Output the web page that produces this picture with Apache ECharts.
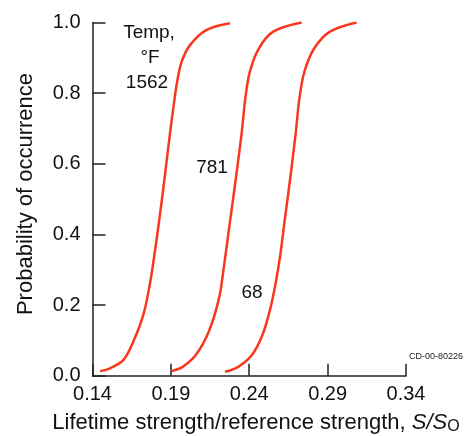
<!DOCTYPE html>
<html>
<head>
<meta charset="utf-8">
<script src="https://cdn.jsdelivr.net/npm/echarts@6/dist/echarts.min.js"></script>
<style>
  html, body { margin: 0; padding: 0; background: #fff; }
  #chart { width: 464px; height: 436px; }
</style>
</head>
<body>
<div id="chart"></div>
<script>
// data
var xTicks = [0.14, 0.19, 0.24, 0.29, 0.34];
var yTicks = [0.0, 0.2, 0.4, 0.6, 0.8, 1.0];

var x1562 = [0.1448, 0.1512, 0.1596, 0.1660, 0.1724, 0.1765, 0.1795, 0.1830, 0.1862, 0.1893, 0.1918, 0.1940, 0.1969, 0.2022, 0.2128, 0.2277];
var y1562 = [0.013, 0.021, 0.044, 0.096, 0.172, 0.257, 0.342, 0.455, 0.568, 0.681, 0.766, 0.832, 0.889, 0.936, 0.979, 0.998];

var x781 = [0.1905, 0.1975, 0.2060, 0.2142, 0.2207, 0.2237, 0.2280, 0.2309, 0.2350, 0.2375, 0.2404, 0.2462, 0.2553, 0.2734];
var y781 = [0.013, 0.025, 0.059, 0.125, 0.219, 0.304, 0.446, 0.540, 0.681, 0.785, 0.861, 0.927, 0.974, 1.0];

var x68 = [0.2245, 0.2330, 0.2418, 0.2484, 0.2535, 0.2570, 0.2598, 0.2628, 0.2656, 0.2695, 0.2720, 0.2752, 0.2815, 0.2915, 0.3085];
var y68 = [0.011, 0.025, 0.059, 0.115, 0.191, 0.266, 0.342, 0.446, 0.540, 0.681, 0.785, 0.861, 0.927, 0.974, 1.0];

function pairs(xs, ys) {
  return xs.map(function (x, i) { return [x, ys[i]]; });
}

var red = '#f7381f';
var font = '"Liberation Sans", Arial, sans-serif';

var myChart = echarts.init(document.getElementById('chart'));

var lineStyle = { color: red, width: 2.5 };

var option = {
  backgroundColor: '#fff',
  animation: false,
  grid: { left: 92.5, right: 58, top: 22.5, bottom: 60.3 },
  xAxis: {
    type: 'value',
    min: xTicks[0],
    max: xTicks[xTicks.length - 1],
    interval: 0.05,
    axisLine: { show: true, lineStyle: { color: '#222', width: 1.5 } },
    axisTick: { show: true, inside: true, length: 12, lineStyle: { color: '#222', width: 1.5 } },
    splitLine: { show: false },
    axisLabel: {
      margin: 9, fontSize: 20, color: '#111', fontFamily: font,
      formatter: function (v) { return v.toFixed(2); }
    }
  },
  yAxis: {
    type: 'value',
    min: yTicks[0],
    max: yTicks[yTicks.length - 1],
    interval: 0.2,
    axisLine: { show: true, lineStyle: { color: '#222', width: 1.5 } },
    axisTick: { show: true, inside: true, length: 13, lineStyle: { color: '#222', width: 1.5 } },
    splitLine: { show: false },
    axisLabel: {
      margin: 12, fontSize: 20, color: '#111', fontFamily: font,
      formatter: function (v) { return v.toFixed(1); }
    }
  },
  series: [
    { name: '1562', type: 'line', smooth: 0.35, showSymbol: false, data: pairs(x1562, y1562), lineStyle: lineStyle },
    { name: '781', type: 'line', smooth: 0.35, showSymbol: false, data: pairs(x781, y781), lineStyle: lineStyle },
    { name: '68', type: 'line', smooth: 0.35, showSymbol: false, data: pairs(x68, y68), lineStyle: lineStyle }
  ],
  graphic: [
    { type: 'text', x: 149, y: 33, style: { text: 'Temp,', font: '19px ' + font, fill: '#111', align: 'center', verticalAlign: 'middle' } },
    { type: 'text', x: 150, y: 58, style: { text: '°F', font: '19px ' + font, fill: '#111', align: 'center', verticalAlign: 'middle' } },
    { type: 'text', x: 147, y: 83, style: { text: '1562', font: '19px ' + font, fill: '#111', align: 'center', verticalAlign: 'middle' } },
    { type: 'text', x: 212, y: 168, style: { text: '781', font: '19px ' + font, fill: '#111', align: 'center', verticalAlign: 'middle' } },
    { type: 'text', x: 252, y: 293, style: { text: '68', font: '19px ' + font, fill: '#111', align: 'center', verticalAlign: 'middle' } },
    { type: 'text', x: 463, y: 357, style: { text: 'CD-00-80226', font: '9px ' + font, fill: '#222', align: 'right', verticalAlign: 'middle' } },
    {
      type: 'text', x: 26, y: 194, rotation: Math.PI / 2,
      style: { text: 'Probability of occurrence', font: '22px ' + font, fill: '#111', align: 'center', verticalAlign: 'middle' }
    },
    {
      type: 'text', x: 256, y: 423,
      style: {
        text: '{n|Lifetime strength/reference strength, }{i|S/S}{s|O}',
        align: 'center', verticalAlign: 'middle',
        rich: {
          n: { fontSize: 22, fontFamily: font, fill: '#111' },
          i: { fontSize: 22, fontFamily: font, fontStyle: 'italic', fill: '#111' },
          s: { fontSize: 16, fontFamily: font, fill: '#111', padding: [8, 0, 0, 0] }
        }
      }
    }
  ]
};

option && myChart.setOption(option);
</script>
</body>
</html>
